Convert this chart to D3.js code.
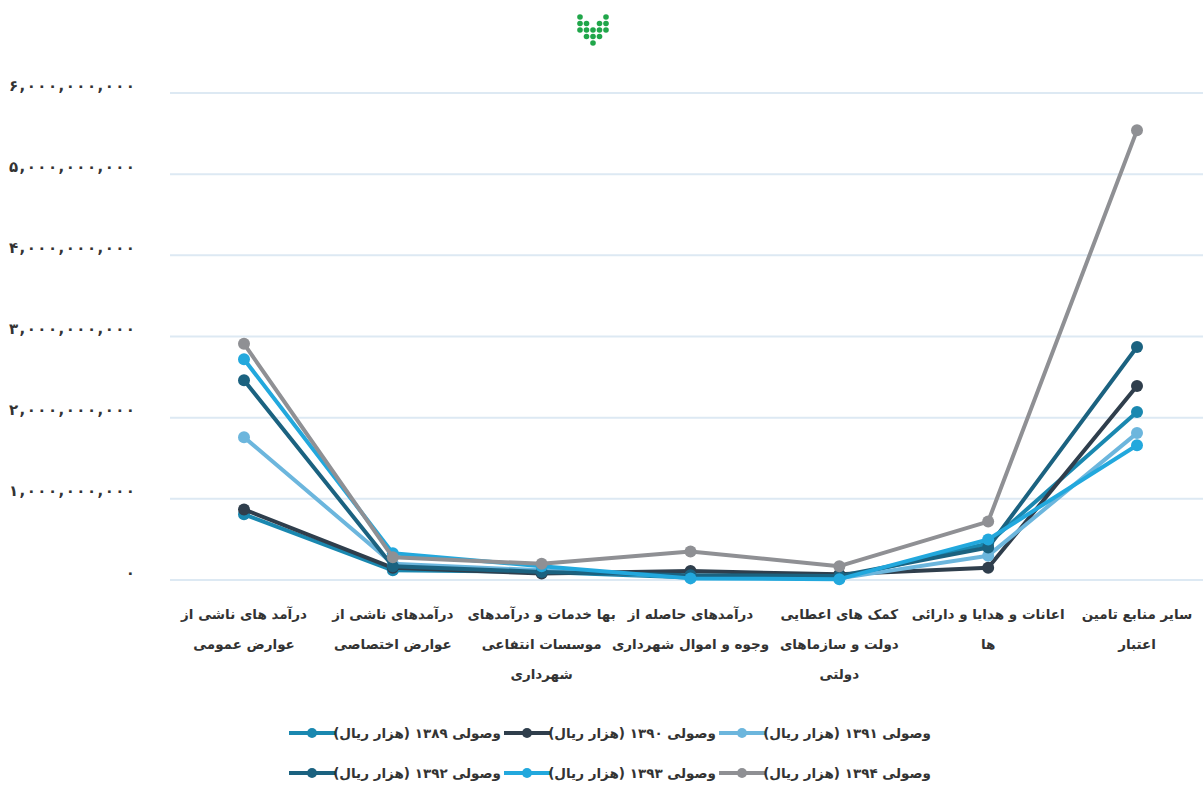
<!DOCTYPE html>
<html><head><meta charset="utf-8">
<script src="https://cdn.jsdelivr.net/npm/d3@7"></script>
<style>
body{margin:0;background:#fff;}
svg text{font-family:"DejaVu Sans",sans-serif;}
</style></head>
<body><svg id="c" width="1203" height="786"></svg>
<script>
const categories = [
  ["درآمد های ناشی از","عوارض عمومی"],
  ["درآمدهای ناشی از","عوارض اختصاصی"],
  ["بها خدمات و درآمدهای","موسسات انتفاعی","شهرداری"],
  ["درآمدهای حاصله از","وجوه و اموال شهرداری"],
  ["کمک های اعطایی","دولت و سازماهای","دولتی"],
  ["اعانات و هدایا و دارائی","ها"],
  ["سایر منابع تامین","اعتبار"]
];
const seriesNames = ["وصولی ۱۳۸۹ (هزار ریال)","وصولی ۱۳۹۰ (هزار ریال)","وصولی ۱۳۹۱ (هزار ریال)","وصولی ۱۳۹۲ (هزار ریال)","وصولی ۱۳۹۳ (هزار ریال)","وصولی ۱۳۹۴ (هزار ریال)"];
const seriesColors = ["#1a88b0","#2f3e4c","#6cb6dd","#1b6280","#22a8dd","#8f9094"];
const v1389 = [0.81e9,0.12e9,0.10e9,0.03e9,0.02e9,0.45e9,2.07e9];
const v1390 = [0.87e9,0.15e9,0.08e9,0.11e9,0.07e9,0.15e9,2.39e9];
const v1391 = [1.76e9,0.20e9,0.12e9,0.04e9,0.02e9,0.30e9,1.81e9];
const v1392 = [2.46e9,0.17e9,0.10e9,0.06e9,0.05e9,0.40e9,2.87e9];
const v1393 = [2.72e9,0.33e9,0.17e9,0.02e9,0.01e9,0.50e9,1.66e9];
const v1394 = [2.91e9,0.28e9,0.20e9,0.35e9,0.17e9,0.72e9,5.54e9];
const seriesValues = [v1389,v1390,v1391,v1392,v1393,v1394];
const yTicks = [0,1e9,2e9,3e9,4e9,5e9,6e9];
const yTickLabels = ["۰","۱,۰۰۰,۰۰۰,۰۰۰","۲,۰۰۰,۰۰۰,۰۰۰","۳,۰۰۰,۰۰۰,۰۰۰","۴,۰۰۰,۰۰۰,۰۰۰","۵,۰۰۰,۰۰۰,۰۰۰","۶,۰۰۰,۰۰۰,۰۰۰"];
const logoDots = [[0,0],[4,0],[0,1],[1,1],[3,1],[4,1],[0,2],[1,2],[2,2],[3,2],[4,2],[1,3],[2,3],[3,3],[2,4]];

const svg = d3.select("#c");
const x = d3.scalePoint().domain(d3.range(categories.length)).range([244,1137]);
const y = d3.scaleLinear().domain([0,6e9]).range([580,93]);

// logo
const lx = d3.scaleLinear().domain([0,4]).range([580,606]);
const ly = d3.scaleLinear().domain([0,4]).range([17,43]);
svg.append("g").selectAll("circle").data(logoDots).join("circle")
  .attr("cx",d=>lx(d[0])).attr("cy",d=>ly(d[1])).attr("r",2.8).attr("fill","#20a64a");

// grid
svg.append("g").selectAll("line").data(yTicks).join("line")
  .attr("x1",170).attr("x2",1203).attr("y1",d=>y(d)).attr("y2",d=>y(d))
  .attr("stroke","#dde9f3").attr("stroke-width",2);
const yAxis = d3.axisLeft(y).tickValues(yTicks).tickSize(0).tickFormat((d,i)=>yTickLabels[i]);
const gy = svg.append("g").attr("transform","translate(137,0)").call(yAxis);
gy.select(".domain").remove();
gy.selectAll("text").attr("font-size",15).attr("font-weight","bold")
  .attr("fill","#333").attr("x",-2).attr("dy","-0.2em")
  .each(function(d){ if(d>0) d3.select(this).attr("textLength",126).attr("lengthAdjust","spacing"); });

// x labels
const xl = svg.append("g");
categories.forEach((lines,i)=>{
  lines.forEach((t,j)=>{
    xl.append("text").attr("x",x(i)).attr("y",619+j*30).attr("text-anchor","middle")
      .attr("direction","rtl").attr("font-size",13.5).attr("font-weight","bold").attr("fill","#333").text(t);
  });
});

// lines
const line = d3.line().x((d,i)=>x(i)).y(d=>y(d));
seriesValues.forEach((vals,s)=>{
  const g = svg.append("g");
  g.append("path").attr("d",line(vals)).attr("fill","none").attr("stroke",seriesColors[s]).attr("stroke-width",4).attr("stroke-linejoin","round");
  g.selectAll("circle").data(vals).join("circle").attr("cx",(d,i)=>x(i)).attr("cy",d=>y(d)).attr("r",6).attr("fill",seriesColors[s]);
});

// legend
const lg = svg.append("g");
seriesNames.forEach((n,s)=>{
  const col = s%3, row = Math.floor(s/3);
  const x0 = 289 + col*215, yy = 733 + row*40;
  lg.append("line").attr("x1",x0).attr("x2",x0+46).attr("y1",yy).attr("y2",yy).attr("stroke",seriesColors[s]).attr("stroke-width",4);
  lg.append("circle").attr("cx",x0+23).attr("cy",yy).attr("r",5).attr("fill",seriesColors[s]);
  lg.append("text").attr("x",x0+212).attr("y",yy+5).attr("text-anchor","start").attr("direction","rtl")
    .attr("font-size",13.5).attr("font-weight","bold").attr("fill","#333").text(n);
});
</script></body></html>
